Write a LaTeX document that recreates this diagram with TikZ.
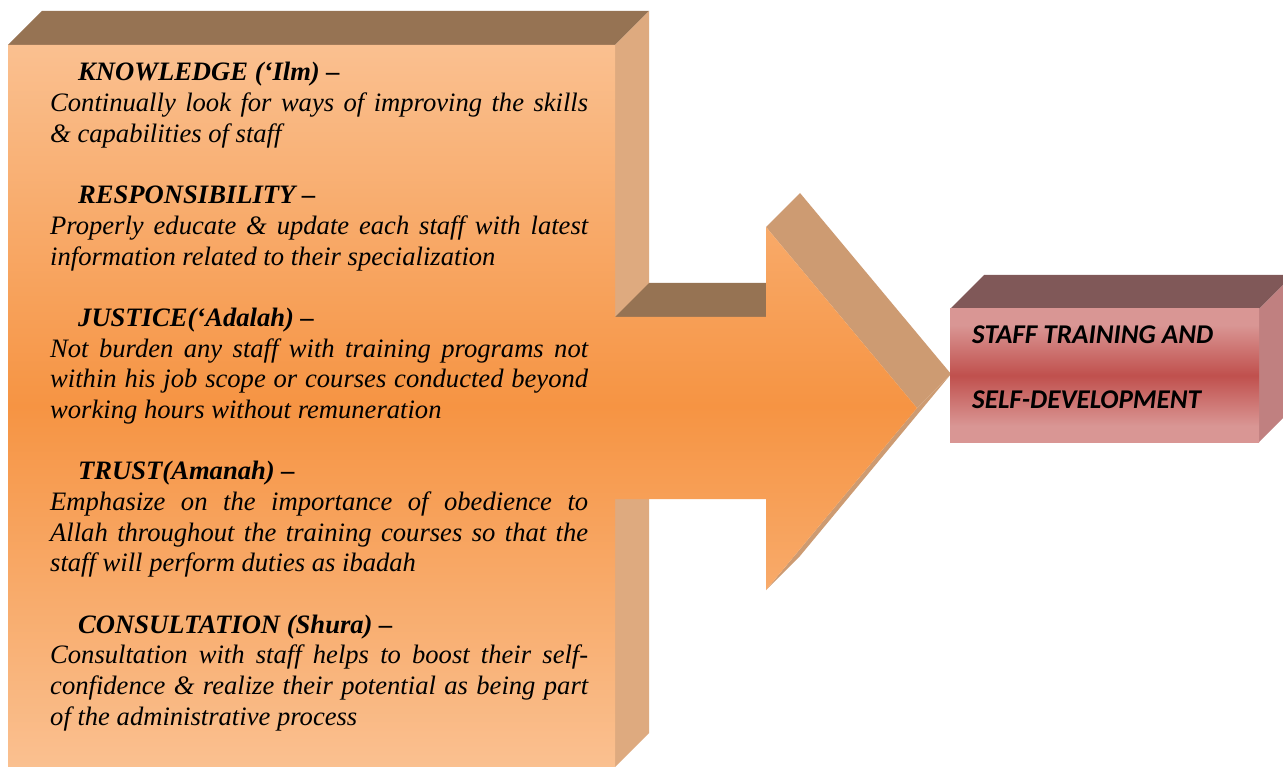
\documentclass[tikz,border=0pt]{standalone}
\usepackage{fontspec}
\setmainfont{Liberation Serif}
\newfontfamily\calib{Carlito}
\definecolor{boxlight}{HTML}{FAC090}
\definecolor{boxmid}{HTML}{F69443}
\definecolor{boxtop}{HTML}{967353}
\definecolor{boxside}{HTML}{DEAA7F}
\definecolor{arrowside}{HTML}{CD9B72}
\definecolor{redlight}{HTML}{D99694}
\definecolor{redmid}{HTML}{C0504D}
\definecolor{redtop}{HTML}{805858}
\definecolor{redside}{HTML}{C08080}
\pgfdeclareverticalshading{redband}{100bp}{color(0bp)=(redlight); color(25bp)=(redlight); color(31bp)=(redlight); color(50bp)=(redmid); color(69bp)=(redlight); color(75bp)=(redlight); color(100bp)=(redlight)}
\tikzset{
  body/.style={anchor=base west, inner sep=0pt, font=\fontsize{26.6}{30.67}\selectfont\itshape},
  head/.style={anchor=base west, inner sep=0pt, font=\fontsize{26.6}{30.67}\selectfont\bfseries\itshape},
  redtext/.style={anchor=base west, inner sep=0pt, font={\fontsize{27.1}{30}\calib\bfseries\itshape}},
}
\newcommand{\jline}[1]{\makebox[538pt][s]{#1}}
\begin{document}
\begin{tikzpicture}[x=1pt,y=-1pt]
\clip (0,0) rectangle (1283,767);
\fill[white] (0,0) rectangle (1283,767);
% big box: top and side faces
\fill[boxtop] (8,45) -- (42,11) -- (649,11) -- (615,45) -- cycle;
\fill[boxside] (615,45) -- (649,11) -- (649,733) -- (615,767) -- cycle;
% arrow extrusion faces
\fill[boxtop] (615,317) -- (649,283) -- (766,283) -- (766,317) -- cycle;
\fill[arrowside] (766,227) -- (800,193) -- (951,374) -- (917,408) -- cycle;
\fill[arrowside] (917,408) -- (951,374) -- (800,556) -- (766,590) -- cycle;
% front face: box + arrow
\shade[top color=boxlight, bottom color=boxlight, middle color=boxmid]
  (8,45) -- (615,45) -- (615,317) -- (766,317) -- (766,227) -- (917,408)
  -- (766,590) -- (766,499) -- (615,499) -- (615,767) -- (8,767) -- cycle;
% right box
\fill[redtop] (950,309) -- (984,275) -- (1293,275) -- (1259,309) -- cycle;
\fill[redside] (1259,309) -- (1293,275) -- (1293,408) -- (1259,442) -- cycle;
\shade[shading=redband] (950,309) rectangle (1259,442);
% texts
\node[head] (h1) at (78,81) {KNOWLEDGE (‘Ilm) –};
\node[body] (b11) at (50,111.67) {\jline{Continually look for ways of improving the skills}};
\node[body] (b12) at (50,142.34) {\& capabilities of staff};
\node[head] (h2) at (78,203.68) {RESPONSIBILITY –};
\node[body] (b21) at (50,234.35) {\jline{Properly educate \& update each staff with latest}};
\node[body] (b22) at (50,265.02) {information related to their specialization};
\node[head] (h3) at (78,326.36) {JUSTICE(‘Adalah) –};
\node[body] (b31) at (50,357.03) {\jline{Not burden any staff with training programs not}};
\node[body] (b32) at (50,387.7) {\jline{within his job scope or courses conducted beyond}};
\node[body] (b33) at (50,418.37) {working hours without remuneration};
\node[head] (h4) at (78,479.71) {TRUST(Amanah) –};
\node[body] (b41) at (50,510.38) {\jline{Emphasize on the importance of obedience to}};
\node[body] (b42) at (50,541.05) {\jline{Allah throughout the training courses so that the}};
\node[body] (b43) at (50,571.72) {staff will perform duties as ibadah};
\node[head] (h5) at (78,633.06) {CONSULTATION (Shura) –};
\node[body] (b51) at (50,663.73) {\jline{Consultation with staff helps to boost their self-}};
\node[body] (b52) at (50,694.4) {\jline{confidence \& realize their potential as being part}};
\node[body] (b53) at (50,725.07) {of the administrative process};
\node[redtext] (r1) at (972,344) {STAFF TRAINING AND};
\node[redtext] (r2) at (972,408) {SELF-DEVELOPMENT};
\end{tikzpicture}
\end{document}
